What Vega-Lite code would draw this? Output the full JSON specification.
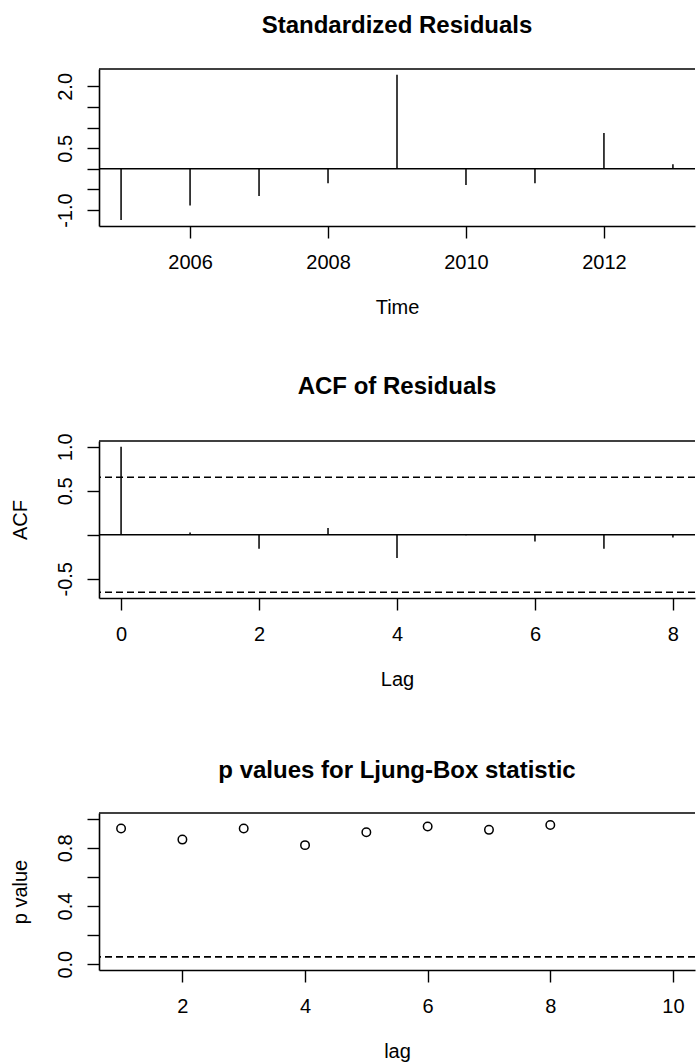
{
  "$schema": "https://vega.github.io/schema/vega-lite/v6.json",
  "background": "white",
  "padding": {"left": 10, "top": 14, "right": 0, "bottom": 0},
  "bounds": "flush",
  "spacing": 215,
  "datasets": {
    "resid": [
      {"year": 2005, "resid": -1.24},
      {"year": 2006, "resid": -0.89},
      {"year": 2007, "resid": -0.66},
      {"year": 2008, "resid": -0.35},
      {"year": 2009, "resid": 2.28},
      {"year": 2010, "resid": -0.39},
      {"year": 2011, "resid": -0.35},
      {"year": 2012, "resid": 0.87},
      {"year": 2013, "resid": 0.11}
    ],
    "acf": [
      {"lag": 0, "acf": 1.0},
      {"lag": 1, "acf": 0.027},
      {"lag": 2, "acf": -0.16},
      {"lag": 3, "acf": 0.078},
      {"lag": 4, "acf": -0.265},
      {"lag": 5, "acf": -0.005},
      {"lag": 6, "acf": -0.078},
      {"lag": 7, "acf": -0.16},
      {"lag": 8, "acf": -0.03}
    ],
    "ci": [{"ci": 0.6533}, {"ci": -0.6533}],
    "pv": [
      {"lag": 1, "p": 0.933},
      {"lag": 2, "p": 0.857},
      {"lag": 3, "p": 0.933},
      {"lag": 4, "p": 0.819},
      {"lag": 5, "p": 0.907},
      {"lag": 6, "p": 0.947},
      {"lag": 7, "p": 0.924},
      {"lag": 8, "p": 0.958}
    ],
    "alpha": [{"level": 0.05}],
    "none": [{}]
  },
  "vconcat": [
    {
      "width": 596,
      "height": 157,
      "title": {"text": "Standardized Residuals", "offset": 30},
      "layer": [
        {
          "data": {"name": "resid"},
          "mark": {"type": "rule", "color": "black", "strokeWidth": 1.5},
          "encoding": {
            "x": {"field": "year", "type": "quantitative",
              "scale": {"domain": [2004.68, 2013.32], "nice": false, "zero": false},
              "axis": {"values": [2006, 2008, 2010, 2012], "format": "d", "title": "Time"}},
            "y": {"field": "resid", "type": "quantitative",
              "scale": {"domain": [-1.385, 2.421], "nice": false, "zero": false},
              "axis": {"values": [-1, -0.5, 0, 0.5, 1, 1.5, 2], "title": null,
                "labelExpr": "datum.value == 2 ? '2.0' : datum.value == 0.5 ? '0.5' : datum.value == -1 ? '-1.0' : ''"}},
            "y2": {"datum": 0}
          }
        },
        {
          "data": {"name": "none"},
          "mark": {"type": "rule", "color": "black", "strokeWidth": 1.5},
          "encoding": {"y": {"datum": 0}}
        },
        {
          "data": {"name": "none"},
          "mark": {"type": "rule", "color": "black", "strokeWidth": 1.6},
          "encoding": {"y": {"datum": 2.421}}
        }
      ]
    },
    {
      "width": 596,
      "height": 157,
      "title": {"text": "ACF of Residuals", "offset": 34.3},
      "layer": [
        {
          "data": {"name": "acf"},
          "mark": {"type": "rule", "color": "black", "strokeWidth": 1.5},
          "encoding": {
            "x": {"field": "lag", "type": "quantitative",
              "scale": {"domain": [-0.32, 8.32], "nice": false, "zero": false},
              "axis": {"values": [0, 2, 4, 6, 8], "format": "d", "title": "Lag"}},
            "y": {"field": "acf", "type": "quantitative",
              "scale": {"domain": [-0.719, 1.066], "nice": false, "zero": false},
              "axis": {"values": [-0.5, 0, 0.5, 1], "title": "ACF",
                "labelExpr": "datum.value == 1 ? '1.0' : datum.value == 0.5 ? '0.5' : datum.value == -0.5 ? '-0.5' : ''"}},
            "y2": {"datum": 0}
          }
        },
        {
          "data": {"name": "ci"},
          "mark": {"type": "rule", "color": "black", "strokeWidth": 1.6, "strokeDash": [7, 4]},
          "encoding": {"y": {"field": "ci", "type": "quantitative"}}
        },
        {
          "data": {"name": "none"},
          "mark": {"type": "rule", "color": "black", "strokeWidth": 1.5},
          "encoding": {"y": {"datum": 0}}
        },
        {
          "data": {"name": "none"},
          "mark": {"type": "rule", "color": "black", "strokeWidth": 1.6},
          "encoding": {"y": {"datum": 1.066}}
        }
      ]
    },
    {
      "width": 596,
      "height": 157,
      "title": {"text": "p values for Ljung-Box statistic", "offset": 29.5},
      "layer": [
        {
          "data": {"name": "pv"},
          "mark": {"type": "point", "shape": "circle", "filled": false, "color": "black", "strokeWidth": 1.5, "size": 72, "opacity": 1},
          "encoding": {
            "x": {"field": "lag", "type": "quantitative",
              "scale": {"domain": [0.64, 10.36], "nice": false, "zero": false},
              "axis": {"values": [2, 4, 6, 8, 10], "format": "d", "title": "lag"}},
            "y": {"field": "p", "type": "quantitative",
              "scale": {"domain": [-0.04, 1.04], "nice": false, "zero": false},
              "axis": {"values": [0, 0.2, 0.4, 0.6, 0.8, 1], "title": "p value",
                "labelExpr": "datum.value == 0 ? '0.0' : datum.value == 0.4 ? '0.4' : datum.value == 0.8 ? '0.8' : ''"}}
          }
        },
        {
          "data": {"name": "alpha"},
          "mark": {"type": "rule", "color": "black", "strokeWidth": 1.6, "strokeDash": [7, 4]},
          "encoding": {"y": {"field": "level", "type": "quantitative"}}
        },
        {
          "data": {"name": "none"},
          "mark": {"type": "rule", "color": "black", "strokeWidth": 1.6},
          "encoding": {"y": {"datum": 1.04}}
        }
      ]
    }
  ],
  "config": {
    "view": {"stroke": null},
    "font": "Liberation Sans",
    "axis": {
      "grid": false,
      "tickCount": 100,
      "domainColor": "black",
      "domainWidth": 1.6,
      "tickColor": "black",
      "tickWidth": 1.4,
      "tickSize": 12,
      "labelFont": "Liberation Sans",
      "labelFontSize": 20,
      "labelColor": "black",
      "labelFlush": false,
      "labelOverlap": false,
      "titleFont": "Liberation Sans",
      "titleFontSize": 20,
      "titleFontWeight": "normal",
      "titleColor": "black"
    },
    "axisX": {
      "labelBaseline": "alphabetic",
      "labelPadding": 30,
      "titleBaseline": "alphabetic",
      "titleY": 87.5
    },
    "axisY": {
      "labelAngle": 270,
      "labelAlign": "center",
      "labelBaseline": "alphabetic",
      "labelPadding": 16,
      "titleAngle": 270,
      "titleAlign": "center",
      "titleBaseline": "alphabetic",
      "titleX": -73
    },
    "title": {
      "font": "Liberation Sans",
      "fontSize": 24,
      "fontWeight": "bold",
      "color": "black",
      "anchor": "middle",
      "frame": "group",
      "baseline": "alphabetic"
    }
  }
}
